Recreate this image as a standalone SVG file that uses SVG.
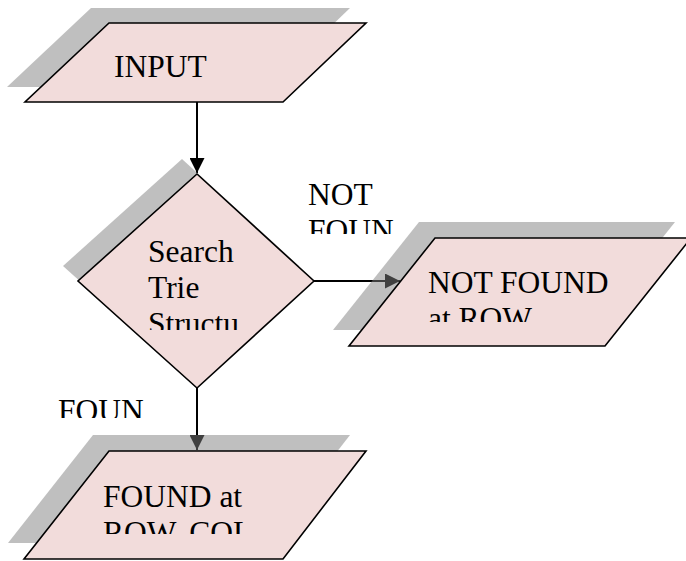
<svg xmlns="http://www.w3.org/2000/svg" width="686" height="561" viewBox="0 0 686 561">
<style>
.shape{fill:#f2dcdb;stroke:#000;stroke-width:1.6;stroke-linejoin:miter}
.shadow{fill:#808080;fill-opacity:0.5;stroke:none}
.conn{stroke:#000;stroke-width:2;fill:none}
.t{font-family:"Liberation Serif","Times New Roman",Tinos,serif;font-size:31.5px;fill:#000}
</style>
<defs>
<marker id="arr" viewBox="0 0 10 10" refX="10" refY="5" markerWidth="15" markerHeight="15" markerUnits="userSpaceOnUse" orient="auto">
<path d="M0,0 L10,5 L0,10 z" fill="#000"/>
</marker>
<clipPath id="cDia"><rect x="140" y="230" width="120" height="100"/></clipPath>
<clipPath id="cNot"><rect x="420" y="260" width="200" height="62"/></clipPath>
<clipPath id="cFound"><rect x="95" y="475" width="200" height="59"/></clipPath>
<clipPath id="cLblNot"><rect x="300" y="175" width="100" height="59"/></clipPath>
<clipPath id="cLblFound"><rect x="50" y="390" width="100" height="28"/></clipPath>
</defs>
<rect width="686" height="561" fill="#fff"/>
<g id="connectors">
<line class="conn" x1="197" y1="102" x2="197" y2="173" marker-end="url(#arr)"/>
<line class="conn" x1="314" y1="281" x2="400" y2="281" marker-end="url(#arr)"/>
<line class="conn" x1="197" y1="388" x2="197" y2="450" marker-end="url(#arr)"/>
</g>
<g id="shadows">
<polygon class="shadow" points="91,8 350,8 268,87 7,87"/>
<polygon class="shadow" points="182,159 299,266 182,373 63,266"/>
<polygon class="shadow" points="419,222 675,222 589,330 333,330"/>
<polygon class="shadow" points="93,435 350,435 266,543 8,543"/>
</g>
<g id="input">
<polygon class="shape" points="109,23 366,23 283,102 25,102"/>
<text class="t" x="114" y="77">INPUT</text>
</g>
<g id="search">
<polygon class="shape" points="197,174 314,281 197,388 78,281"/>
<g clip-path="url(#cDia)">
<text class="t" x="148" y="262">Search</text>
<text class="t" x="148" y="298">Trie</text>
<text class="t" x="148" y="334">Structu</text>
</g>
</g>
<g id="notfound">
<polygon class="shape" points="435,238 691,238 605,346 349,346"/>
<g clip-path="url(#cNot)">
<text class="t" x="428" y="293">NOT FOUND</text>
<text class="t" x="428" y="329">at ROW</text>
</g>
</g>
<g id="found">
<polygon class="shape" points="109,451 366,451 283,559 24,559"/>
<g clip-path="url(#cFound)">
<text class="t" x="103" y="507">FOUND at</text>
<text class="t" x="103" y="543">ROW, COL</text>
</g>
</g>
<g id="label-notfound" clip-path="url(#cLblNot)">
<text class="t" x="308" y="205">NOT</text>
<text class="t" x="308" y="241">FOUN</text>
</g>
<g id="label-found" clip-path="url(#cLblFound)">
<text class="t" x="58" y="421">FOUN</text>
</g>
</svg>
